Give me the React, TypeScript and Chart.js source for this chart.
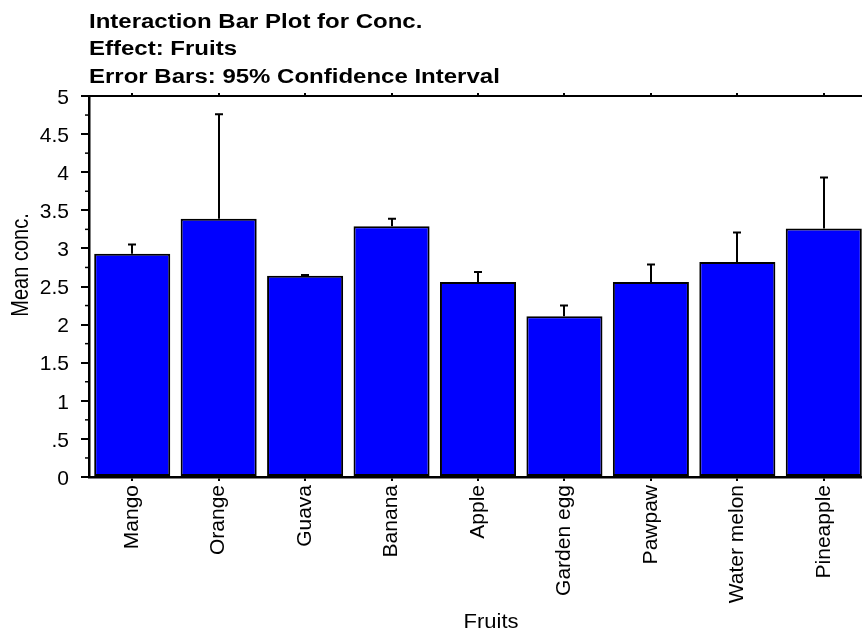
import React, { useEffect, useRef } from 'react';
import { Chart, registerables } from 'chart.js';

Chart.register(...registerables);

const categories = ['Mango', 'Orange', 'Guava', 'Banana', 'Apple', 'Garden egg', 'Pawpaw', 'Water melon', 'Pineapple'];
const meanConc = [2.93, 3.39, 2.64, 3.29, 2.56, 2.11, 2.56, 2.82, 3.26];
const upperCI = [3.05, 4.76, 2.65, 3.39, 2.69, 2.25, 2.79, 3.21, 3.93];
const titleLines = ['Interaction Bar Plot for Conc.', 'Effect: Fruits', 'Error Bars: 95% Confidence Interval'];
const yAxisTitle = 'Mean conc.';
const xAxisTitle = 'Fruits';

const FONT = '"Liberation Sans", Arial, Helvetica, sans-serif';

const annotationsPlugin = {
  id: 'annotations',
  afterDatasetsDraw(chart: any) {
    const ctx = chart.ctx;
    const yScale = chart.scales.y;
    const meta = chart.getDatasetMeta(0);
    ctx.save();
    ctx.strokeStyle = '#000';
    ctx.lineWidth = 2;
    meta.data.forEach((bar: any, i: number) => {
      const x = Math.round(bar.x);
      const yTop = bar.y;
      const yU = yScale.getPixelForValue(upperCI[i]);
      ctx.beginPath();
      ctx.moveTo(x, yTop);
      ctx.lineTo(x, yU);
      ctx.moveTo(x - 4, yU);
      ctx.lineTo(x + 4, yU);
      ctx.stroke();
    });
    ctx.restore();
  },
  afterDraw(chart: any) {
    const ctx = chart.ctx;
    const yScale = chart.scales.y;
    const area = chart.chartArea;
    ctx.save();
    // minor ticks on y axis
    ctx.strokeStyle = '#000';
    ctx.lineWidth = 1.5;
    const ticks = yScale.ticks;
    for (let i = 0; i < ticks.length - 1; i++) {
      const v = (ticks[i].value + ticks[i + 1].value) / 2;
      const y = yScale.getPixelForValue(v);
      ctx.beginPath();
      ctx.moveTo(area.left - 4, y);
      ctx.lineTo(area.left, y);
      ctx.stroke();
    }
    // titles
    ctx.fillStyle = '#000';
    ctx.textAlign = 'left';
    ctx.textBaseline = 'alphabetic';
    ctx.font = 'bold 20px ' + FONT;
    const baselines = [27.5, 54.5, 82.5];
    titleLines.forEach((line, i) => {
      ctx.save();
      ctx.translate(89, baselines[i]);
      ctx.scale(1.2, 1);
      ctx.fillText(line, 0, 0);
      ctx.restore();
    });
    // y axis title
    ctx.font = '20px ' + FONT;
    ctx.save();
    ctx.translate(22, 265);
    ctx.scale(1.15, 1);
    ctx.rotate(-Math.PI / 2);
    ctx.textAlign = 'center';
    ctx.textBaseline = 'middle';
    ctx.fillText(yAxisTitle, 0, 0);
    ctx.restore();
    // x axis title
    ctx.save();
    ctx.translate(491, 628);
    ctx.scale(1.1, 1);
    ctx.textAlign = 'center';
    ctx.textBaseline = 'alphabetic';
    ctx.fillText(xAxisTitle, 0, 0);
    ctx.restore();
    ctx.restore();
  },
};

export default function App() {
  const canvasRef = useRef<HTMLCanvasElement | null>(null);

  useEffect(() => {
    if (!canvasRef.current) return;
    const chart = new Chart(canvasRef.current, {
      type: 'bar',
      data: {
        labels: categories,
        datasets: [
          {
            label: 'Mean conc.',
            data: meanConc,
            backgroundColor: '#0000FF',
            borderColor: '#000000',
            borderWidth: 2,
            borderSkipped: false,
            categoryPercentage: 1,
            barPercentage: 0.88,
            xAxisID: 'x',
            yAxisID: 'y',
          },
        ],
      },
      options: {
        responsive: false,
        animation: false,
        devicePixelRatio: 1,
        layout: { padding: { left: 0, right: 1, top: 0, bottom: 0 } },
        plugins: {
          legend: { display: false },
          tooltip: { enabled: false },
          title: { display: false },
        },
        scales: {
          x: {
            type: 'category',
            position: 'bottom',
            offset: true,
            grid: {
              display: true,
              drawOnChartArea: false,
              drawTicks: true,
              tickLength: 4,
              offset: false,
              color: '#000',
              lineWidth: 2,
            },
            border: { display: true, color: '#000', width: 2.5 },
            ticks: {
              autoSkip: false,
              minRotation: 90,
              maxRotation: 90,
              padding: 4,
              color: '#000',
              font: { family: FONT, size: 21 },
            },
            afterFit(scale: any) {
              scale.height = 152;
            },
          },
          x2: {
            type: 'category',
            position: 'top',
            labels: categories,
            offset: true,
            grid: {
              display: true,
              drawOnChartArea: false,
              drawTicks: true,
              tickLength: 3,
              offset: false,
              color: '#000',
              lineWidth: 2,
            },
            border: { display: true, color: '#000', width: 2 },
            ticks: { display: false },
            afterFit(scale: any) {
              scale.height = 96;
            },
          },
          y: {
            type: 'linear',
            position: 'left',
            min: 0,
            max: 5,
            grid: {
              display: true,
              drawOnChartArea: false,
              drawTicks: true,
              tickLength: 8,
              color: '#000',
              lineWidth: 2,
            },
            border: { display: true, color: '#000', width: 2.5 },
            ticks: {
              stepSize: 0.5,
              padding: 12,
              labelOffset: 2,
              color: '#000',
              font: { family: FONT, size: 21 },
              callback: (v: any) => {
                const n = Number(v);
                if (n === 0) return '0';
                if (n < 1) return String(n).replace(/^0/, '');
                return String(n);
              },
            },
            afterFit(scale: any) {
              scale.width = 89;
            },
          },
        },
      },
      plugins: [annotationsPlugin],
    } as any);
    return () => chart.destroy();
  }, []);

  return (
    <div
      style={{
        position: 'fixed',
        left: 0,
        top: 0,
        width: 862,
        height: 629,
        overflow: 'hidden',
        background: '#ffffff',
      }}
    >
      <canvas ref={canvasRef} width={868} height={629} style={{ display: 'block' }} />
    </div>
  );
}
